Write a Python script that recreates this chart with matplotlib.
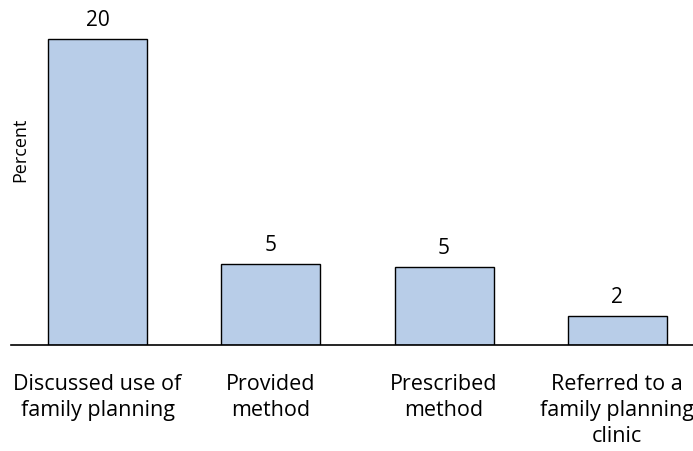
import matplotlib
matplotlib.use("Agg")
import matplotlib.pyplot as plt

categories = ["Discussed use of\nfamily planning", "Provided\nmethod",
              "Prescribed\nmethod", "Referred to a\nfamily planning\nclinic"]
values = [20.0, 5.3, 5.1, 1.9]
value_labels = ["20", "5", "5", "2"]

plt.rcParams['font.family'] = ['Open Sans', 'DejaVu Sans']

fig = plt.figure(figsize=(6.93, 4.52), dpi=100)
W, H = 693, 452
ax = fig.add_axes([11 / W, (H - 346) / H, 1 - 11 / W, 346 / H])

x = list(range(len(categories)))
bars = ax.bar(x, values, width=0.571, color="#b8cde8", edgecolor="black", linewidth=1.0)
for xi, v, lab in zip(x, values, value_labels):
    ax.text(xi, v + 0.55, lab, ha="center", va="bottom", fontsize=15)

ax.set_xlim(-0.5, 3.437)
ax.set_ylim(0, 22.6)
ax.set_xticks(x)
ax.set_xticklabels(categories, fontsize=15.5, linespacing=1.32)
ax.tick_params(axis="x", length=0, pad=20)
ax.set_yticks([])
for s in ["top", "right", "left"]:
    ax.spines[s].set_visible(False)
ax.spines["bottom"].set_linewidth(1.2)

fig.text(20 / W, 1 - 150 / H, "Percent", rotation=90, ha="center", va="center", fontsize=13)

fig.savefig("out.png", dpi=100)
